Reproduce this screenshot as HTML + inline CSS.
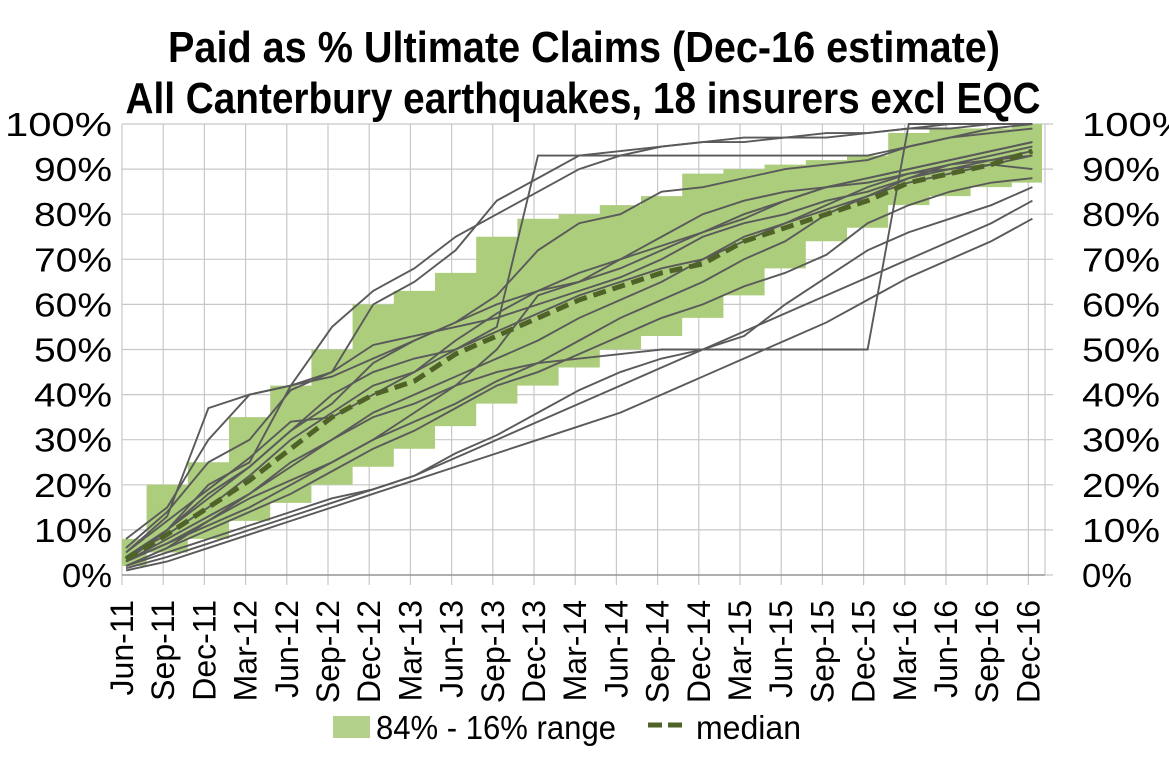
<!DOCTYPE html>
<html><head><meta charset="utf-8"><style>
html,body{margin:0;padding:0;background:#fff;width:1169px;height:760px;overflow:hidden}
svg{font-family:"Liberation Sans",sans-serif}
</style></head><body>
<svg id="c" width="1169" height="760"></svg>
<script>
const categories=["Jun-11","Sep-11","Dec-11","Mar-12","Jun-12","Sep-12","Dec-12","Mar-13","Jun-13","Sep-13","Dec-13","Mar-14","Jun-14","Sep-14","Dec-14","Mar-15","Jun-15","Sep-15","Dec-15","Mar-16","Jun-16","Sep-16","Dec-16"];
const yTicks=[0,10,20,30,40,50,60,70,80,90,100];
const bandUpper=[8,20,25,35,42,50,60,63,67,75,79,80,82,84,89,90,91,92,93,98,99,99,100];
const bandLower=[2,5,8,12,16,20,24,28,33,38,42,46,50,53,57,62,68,74,77,82,84,86,87];
const median=[3.5,9,15,21,28,35,40,43,49,53,57,61,64,67,69,74,77,80,83,87,89,91,94];
const ins1=[5,13,37,40,42,55,63,68,75,80,85,90,93,95,96,97,97,98,98,99,99,100,100];
const ins2=[8,15,30,40,42,45,60,65,72,83,88,93,94,95,96,96,97,97,98,99,100,100,100];
const ins3=[3,10,18,24,32,40,45,48,50,55,93,93,93,93,93,93,93,93,93,95,97,98,99];
const ins4=[2,6,12,18,25,30,35,38,42,45,47,48,49,50,50,50,50,50,50,100,100,100,100];
const ins5=[1,3,6,9,12,15,18,21,24,27,30,33,36,40,44,48,52,56,61,66,70,74,79];
const ins6=[1.5,4,7,10,13,16,19,22,26,30,34,38,42,46,50,54,58,62,66,70,74,78,83];
const ins7=[2,5,8,11,14,17,19,22,27,31,36,41,45,48,50,53,60,66,72,76,79,82,86];
const ins8=[4,10,20,25,42,44,48,52,56,60,63,65,68,72,76,79,83,86,88,90,92,94,96];
const ins9=[4,9,15,22,30,36,42,45,50,54,58,62,65,68,70,75,78,81,84,88,91,93,95];
const ins10=[3,8,13,18,24,30,36,40,44,48,52,57,61,65,70,74,78,82,86,89,91,92,93];
const ins11=[3,7,12,17,21,25,30,36,42,50,62,65,70,73,76,80,83,86,88,90,92,94,96];
const ins12=[4,10,17,24,32,38,47,52,56,62,72,78,80,85,86,88,90,91,92,95,97,99,100];
const ins13=[3,7,11,15,20,25,30,34,38,43,47,52,57,61,65,70,74,80,84,87,89,91,93];
const ins14=[5,12,19,26,34,35,40,45,52,58,63,67,70,75,80,83,85,86,87,89,90,91,90];
const ins15=[2,6,10,14,18,23,28,32,37,42,45,49,53,57,60,64,67,71,78,82,85,87,88];
const ins16=[6,14,25,30,41,45,51,53,55,57,60,63,66,70,75,78,80,83,85,88,90,92,94];
const insurers=[ins1,ins2,ins3,ins4,ins5,ins6,ins7,ins8,ins9,ins10,ins11,ins12,ins13,ins14,ins15,ins16];

const NS="http://www.w3.org/2000/svg";
const svg=document.getElementById('c');
const L=122,R=1045,T=124,B=575,step=41.2,x0=126;
const xs=i=>x0+i*step;
const ys=v=>B-(v/100)*(B-T);
function mk(tag,attrs,parent){const e=document.createElementNS(NS,tag);for(const k in attrs)e.setAttribute(k,attrs[k]);(parent||svg).appendChild(e);return e;}

let t=mk('text',{x:584,y:62,'text-anchor':'middle','font-size':44,'font-weight':'bold',textLength:832,lengthAdjust:'spacingAndGlyphs'});


t.textContent='Paid as % Ultimate Claims (Dec-16 estimate)';
t=mk('text',{x:583,y:113,'text-anchor':'middle','font-size':44,'font-weight':'bold',textLength:915,lengthAdjust:'spacingAndGlyphs'});


t.textContent='All Canterbury earthquakes, 18 insurers excl EQC';

const grid=mk('g',{});


yTicks.forEach(v=>{
  mk('line',{x1:L,x2:R+8,y1:ys(v),y2:ys(v),stroke:'#c8c8c8','stroke-width':1.2},grid);
  const w=v===100?107:(v===0?50:78);
  let a=mk('text',{x:112,y:ys(v)+12,'text-anchor':'end','font-size':33,textLength:w,lengthAdjust:'spacingAndGlyphs'});
  
  
  a.textContent=v+'%';
  a=mk('text',{x:1082,y:ys(v)+12,'text-anchor':'start','font-size':33,textLength:w,lengthAdjust:'spacingAndGlyphs'});
  
  
  a.textContent=v+'%';
});
categories.forEach((c,i)=>{
  const x=L+i*step;
  mk('line',{x1:x,x2:x,y1:T,y2:B+10,stroke:'#c8c8c8','stroke-width':1.2},grid);
  const a=mk('text',{x:0,y:0,'text-anchor':'end','font-size':32,transform:`translate(${x+11},600) rotate(-90)`});
  
  
  a.textContent=c;
});
mk('line',{x1:L,x2:R,y1:B,y2:B,stroke:'#888','stroke-width':1.2},grid);
mk('line',{x1:R,x2:R,y1:T,y2:B,stroke:'#c8c8c8','stroke-width':1.2},grid);

let d='';
bandUpper.forEach((v,i)=>{const xa=Math.max(L,xs(i)-step/2),xb=Math.min(R-3,xs(i)+step/2);d+=(i?'L':'M')+xa+','+ys(v)+'L'+xb+','+ys(v);});
for(let i=bandLower.length-1;i>=0;i--){const xa=Math.max(L,xs(i)-step/2),xb=Math.min(R-3,xs(i)+step/2);d+='L'+xb+','+ys(bandLower[i])+'L'+xa+','+ys(bandLower[i]);}
const band=mk('path',{d:d+'Z',fill:'#abcd7c'});



insurers.forEach(s=>{
  const p=mk('polyline',{points:s.map((v,i)=>xs(i)+','+ys(v)).join(' '),fill:'none',stroke:'#5a5a5a','stroke-width':1.9});
  
  
});
const m=mk('polyline',{points:median.map((v,i)=>xs(i)+','+ys(v)).join(' '),fill:'none',stroke:'#4f6228','stroke-width':5,'stroke-dasharray':'13,7'});



const lg=mk('g',{});


let r=mk('rect',{x:333,y:716,width:37,height:22,fill:'#b3d18a'},lg);


let lt=mk('text',{x:376,y:739,'font-size':33,textLength:240,lengthAdjust:'spacingAndGlyphs'},lg);


lt.textContent='84% - 16% range';
let ll=mk('line',{x1:648,x2:688,y1:725,y2:725,stroke:'#4f6228','stroke-width':5,'stroke-dasharray':'14,6'},lg);


lt=mk('text',{x:696,y:739,'font-size':33,textLength:105,lengthAdjust:'spacingAndGlyphs'},lg);


lt.textContent='median';
</script>
</body></html>
